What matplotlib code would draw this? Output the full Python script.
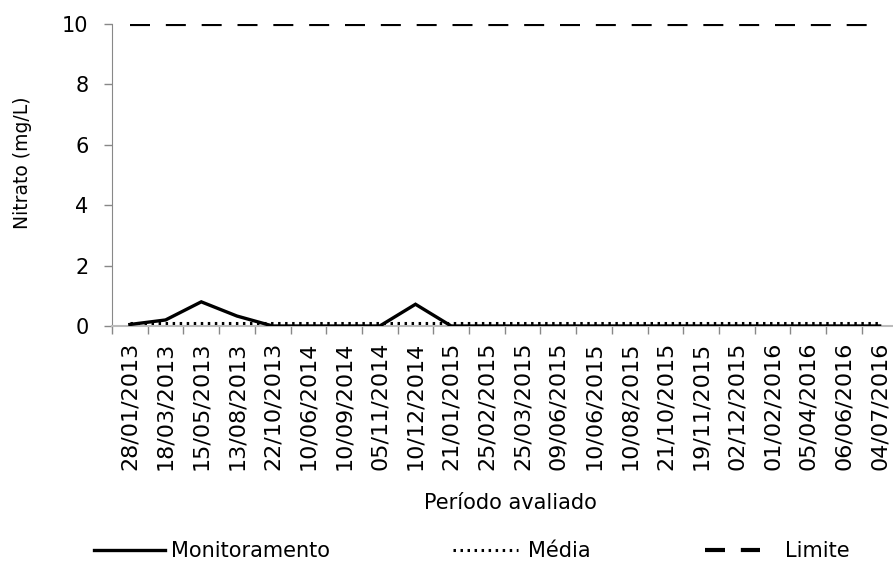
import matplotlib
matplotlib.use("Agg")
import matplotlib.pyplot as plt
import numpy as np

plt.rcParams['font.family'] = ['DejaVu Sans']

datas = ["28/01/2013", "18/03/2013", "15/05/2013", "13/08/2013", "22/10/2013",
         "10/06/2014", "10/09/2014", "05/11/2014", "10/12/2014", "21/01/2015",
         "25/02/2015", "25/03/2015", "09/06/2015", "10/06/2015", "10/08/2015",
         "21/10/2015", "19/11/2015", "02/12/2015", "01/02/2016", "05/04/2016",
         "06/06/2016", "04/07/2016"]
monitoramento = [0.05, 0.2, 0.8, 0.33, 0.0, 0.0, 0.0, 0.0, 0.72, 0.0, 0.0,
                 0.0, 0.0, 0.0, 0.0, 0.0, 0.0, 0.0, 0.0, 0.0, 0.0, 0.0]
media = [0.09] * len(datas)
limite = [10] * len(datas)
yticks = [0, 2, 4, 6, 8, 10]

W, H = 893, 563
fig = plt.figure(figsize=(W / 100, H / 100), dpi=100)
left, right = 112, 897.5
top, bottom = 24, 326
ax = fig.add_axes([left / W, 1 - bottom / H, (right - left) / W, (bottom - top) / H])

x = np.arange(len(datas))
l1, = ax.plot(x, monitoramento, color='black', lw=2.4, solid_joinstyle='miter', zorder=4)
l2, = ax.plot(x, media, color='black', lw=2.2, linestyle=(0, (0.8, 1.5)), zorder=3)
l3, = ax.plot(x, limite, color='black', lw=3.0, linestyle=(0, (4.8, 3.8)),
              dash_capstyle='butt', zorder=3)

ax.set_xlim(-0.5, len(datas) - 0.5)
ax.set_ylim(0, 10)
ax.set_yticks(yticks)
ax.set_yticklabels([str(v) for v in yticks], fontsize=15)
ax.set_xticks(x)
ax.set_xticklabels(datas, rotation=90, fontsize=16)
ax.tick_params(axis='x', length=0, pad=11)
ax.set_xticks(np.arange(len(datas) + 1) - 0.5, minor=True)
ax.tick_params(axis='x', which='minor', length=6, color='#888888', width=1)
ax.tick_params(axis='y', length=6, color='#888888', width=1, pad=11)

for s in ['top', 'right']:
    ax.spines[s].set_visible(False)
ax.spines['left'].set_color('#888888')
ax.spines['bottom'].set_color('#bbbbbb')
ax.spines['bottom'].set_linewidth(1.5)
ax.patch.set_alpha(0)

fig.text(23 / W, 1 - 163 / H, "Nitrato (mg/L)", rotation=90, ha='center', va='center', fontsize=13.5)
fig.text(510 / W, 1 - 503 / H, "Período avaliado", ha='center', va='center', fontsize=15)

ly = 1 - 551 / H
specs = [(l1, "Monitoramento", 94, 3.4, 0.3), (l2, "Média", 453, 3.1, 0.5), (l3, "Limite", 705, 2.65, 1.2)]
for h, lab, xs, hl, tp in specs:
    fig.legend([h], [lab], loc='center left', bbox_to_anchor=(xs / W, ly),
               frameon=False, fontsize=15, handlelength=hl, handletextpad=tp,
               borderpad=0, borderaxespad=0)

fig.savefig("out.png", dpi=100)
